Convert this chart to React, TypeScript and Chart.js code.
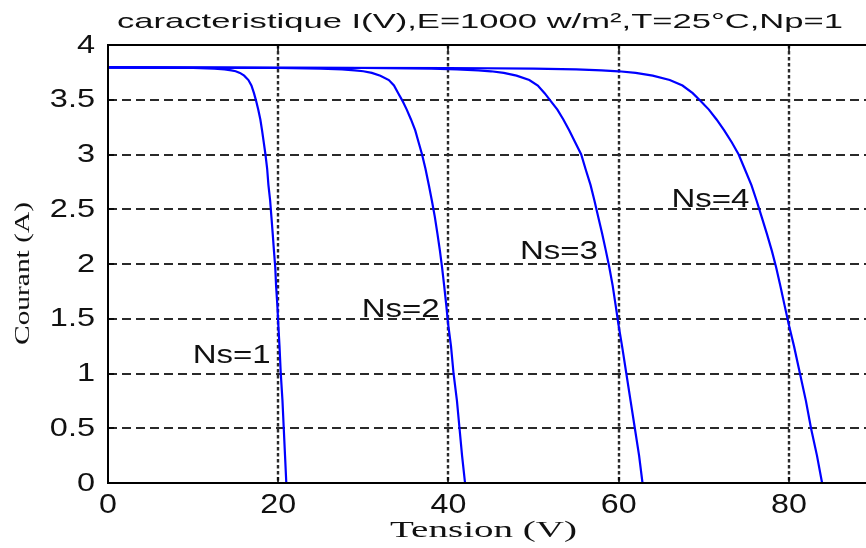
import React, { useEffect, useRef } from "react";
import { Chart, registerables } from "chart.js";

Chart.register(...registerables);

// ---------- data ----------
const TITLE = "caracteristique I(V),E=1000 w/m²,T=25°C,Np=1";
const X_LABEL = "Tension (V)";
const Y_LABEL = "Courant (A)";

const X_TICKS = [0, 20, 40, 60, 80];
const X_TICK_LABELS = ["0", "20", "40", "60", "80"];
const Y_TICKS = [0, 0.5, 1, 1.5, 2, 2.5, 3, 3.5, 4];
const Y_TICK_LABELS = ["0", "0.5", "1", "1.5", "2", "2.5", "3", "3.5", "4"];

const NS1_V = [0, 10, 12.5, 13.7, 14.5, 15, 15.5, 16, 16.5, 16.85, 17.15, 17.4, 17.65, 17.9, 18.1, 18.3, 18.5, 18.7, 18.85, 19.05, 19.2, 19.35, 19.5, 19.65, 19.75, 19.9, 20.0, 20.15, 20.3, 20.5, 20.65, 20.8, 20.95];
const NS1_I = [3.795, 3.79, 3.785, 3.778, 3.768, 3.76, 3.745, 3.72, 3.68, 3.63, 3.56, 3.49, 3.41, 3.32, 3.22, 3.11, 3.0, 2.87, 2.72, 2.58, 2.43, 2.28, 2.12, 1.97, 1.8, 1.62, 1.46, 1.25, 1.0, 0.75, 0.5, 0.25, 0];

const NS2_V = [0, 20, 25, 27.5, 29, 30, 31, 32, 33, 33.6, 34.1, 34.6, 35.1, 35.6, 36.1, 36.5, 36.9, 37.3, 37.7, 38.05, 38.4, 38.7, 39.0, 39.25, 39.5, 39.75, 39.95, 40.3, 40.6, 41.0, 41.3, 41.6, 41.95];
const NS2_I = [3.795, 3.79, 3.785, 3.778, 3.768, 3.76, 3.745, 3.72, 3.68, 3.63, 3.56, 3.49, 3.41, 3.32, 3.22, 3.11, 3.0, 2.87, 2.72, 2.58, 2.43, 2.28, 2.12, 1.97, 1.8, 1.62, 1.46, 1.25, 1.0, 0.75, 0.5, 0.25, 0];

const NS3_V = [0, 30, 38, 41, 43.5, 45, 46.5, 48, 49.5, 50.5, 51.3, 52.0, 52.8, 53.5, 54.2, 54.9, 55.6, 56.1, 56.7, 57.15, 57.6, 58.05, 58.5, 58.9, 59.3, 59.65, 59.95, 60.4, 60.9, 61.4, 61.9, 62.4, 62.8];
const NS3_I = [3.795, 3.79, 3.785, 3.778, 3.768, 3.76, 3.745, 3.72, 3.68, 3.63, 3.56, 3.49, 3.41, 3.32, 3.22, 3.11, 3.0, 2.87, 2.72, 2.58, 2.43, 2.28, 2.12, 1.97, 1.8, 1.62, 1.46, 1.25, 1.0, 0.75, 0.5, 0.25, 0];

const NS4_V = [0, 40, 50, 55, 58, 60, 62, 64, 66, 67.5, 68.7, 69.6, 70.6, 71.5, 72.4, 73.3, 74.1, 74.8, 75.6, 76.2, 76.8, 77.4, 78.0, 78.5, 79.0, 79.5, 79.95, 80.6, 81.3, 82.0, 82.6, 83.3, 83.9];
const NS4_I = [3.795, 3.79, 3.785, 3.778, 3.768, 3.76, 3.745, 3.72, 3.68, 3.63, 3.56, 3.49, 3.41, 3.32, 3.22, 3.11, 3.0, 2.87, 2.72, 2.58, 2.43, 2.28, 2.12, 1.97, 1.8, 1.62, 1.46, 1.25, 1.0, 0.75, 0.5, 0.25, 0];

const SERIES_NAMES = ["Ns=1", "Ns=2", "Ns=3", "Ns=4"];
const SERIES_V = [NS1_V, NS2_V, NS3_V, NS4_V];
const SERIES_I = [NS1_I, NS2_I, NS3_I, NS4_I];

// text annotation anchors (left edge, baseline) in data units
const LABEL_V = [9.95, 29.8, 48.4, 66.2];
const LABEL_I = [1.096, 1.519, 2.043, 2.523];

// ---------- styling ----------
const X_MIN = 0;
const X_MAX = 90;
const Y_MIN = 0;
const Y_MAX = 4;
const CANVAS_W = 900;
const CANVAS_H = 548;
const SANS = "'Liberation Sans', Arial, sans-serif";
const SERIF = "'Liberation Serif', 'Times New Roman', serif";

function drawScaledText(
  ctx: CanvasRenderingContext2D,
  text: string,
  x: number,
  y: number,
  font: string,
  align: "left" | "center" | "right",
  scaleX: number,
  targetWidth?: number
) {
  ctx.save();
  ctx.font = font;
  ctx.textBaseline = "alphabetic";
  ctx.textAlign = "left";
  const w = ctx.measureText(text).width;
  const sx = targetWidth ? targetWidth / w : scaleX;
  const total = w * sx;
  let left = x;
  if (align === "center") left = x - total / 2;
  else if (align === "right") left = x - total;
  ctx.translate(left, y);
  ctx.scale(sx, 1);
  ctx.fillText(text, 0, 0);
  ctx.restore();
}

const matlabPlugin = {
  id: "matlabLook",
  beforeDatasetsDraw(chart: any) {
    const { ctx, chartArea: a, scales } = chart;
    const xs = scales.x;
    const ys = scales.y;
    ctx.save();
    // horizontal dashed grid
    ctx.strokeStyle = "#2a2a2a";
    ctx.lineWidth = 1.8;
    ctx.setLineDash([9, 5]);
    Y_TICKS.forEach((v) => {
      if (v === Y_MIN || v === Y_MAX) return;
      const py = Math.round(ys.getPixelForValue(v));
      ctx.beginPath();
      ctx.moveTo(a.left, py);
      ctx.lineTo(a.right, py);
      ctx.stroke();
    });
    // vertical dotted grid
    ctx.lineWidth = 2.4;
    ctx.setLineDash([3.5, 2.5]);
    X_TICKS.forEach((v) => {
      if (v === X_MIN) return;
      const px = Math.round(xs.getPixelForValue(v));
      ctx.beginPath();
      ctx.moveTo(px, a.top);
      ctx.lineTo(px, a.bottom);
      ctx.stroke();
    });
    ctx.restore();
  },
  afterDraw(chart: any) {
    const { ctx, chartArea: a, scales } = chart;
    const xs = scales.x;
    const ys = scales.y;
    ctx.save();
    ctx.setLineDash([]);
    ctx.strokeStyle = "#000";
    ctx.lineWidth = 2;
    ctx.beginPath();
    ctx.moveTo(a.right + 10, a.top);
    ctx.lineTo(a.left, a.top);
    ctx.lineTo(a.left, a.bottom);
    ctx.lineTo(a.right + 10, a.bottom);
    ctx.stroke();
    // tick marks (inside)
    ctx.lineWidth = 1.5;
    Y_TICKS.forEach((v) => {
      const py = Math.round(ys.getPixelForValue(v));
      ctx.beginPath();
      ctx.moveTo(a.left, py);
      ctx.lineTo(a.left + 6, py);
      ctx.stroke();
    });
    X_TICKS.forEach((v) => {
      const px = Math.round(xs.getPixelForValue(v));
      ctx.beginPath();
      ctx.moveTo(px, a.top);
      ctx.lineTo(px, a.top + 6);
      ctx.moveTo(px, a.bottom);
      ctx.lineTo(px, a.bottom - 6);
      ctx.stroke();
    });

    ctx.fillStyle = "#111";
    // y tick labels
    Y_TICKS.forEach((v, i) => {
      const py = ys.getPixelForValue(v);
      drawScaledText(ctx, Y_TICK_LABELS[i], a.left - 13, py + 7.5, `25px ${SANS}`, "right", 1.3);
    });
    // x tick labels
    X_TICKS.forEach((v, i) => {
      const px = xs.getPixelForValue(v);
      drawScaledText(ctx, X_TICK_LABELS[i], px, a.bottom + 30, `28px ${SANS}`, "center", 1.15);
    });
    // title
    drawScaledText(ctx, TITLE, 480, 27.5, `21px ${SANS}`, "center", 1, 726);
    // x label
    drawScaledText(ctx, X_LABEL, 483.5, 536.5, `23px ${SERIF}`, "center", 1, 187);
    // y label (rotated)
    ctx.save();
    ctx.translate(29, 273.5);
    ctx.rotate(-Math.PI / 2);
    drawScaledText(ctx, Y_LABEL, 0, 0, `21px ${SERIF}`, "center", 1, 143);
    ctx.restore();
    // curve annotations
    SERIES_NAMES.forEach((name, i) => {
      const px = xs.getPixelForValue(LABEL_V[i]);
      const py = ys.getPixelForValue(LABEL_I[i]);
      drawScaledText(ctx, name, px, py, `26px ${SANS}`, "left", 1.27);
    });
    ctx.restore();
  },
};

export default function App() {
  const canvasRef = useRef<HTMLCanvasElement | null>(null);

  useEffect(() => {
    const canvas = canvasRef.current;
    if (!canvas) return;
    const datasets = SERIES_NAMES.map((name, s) => ({
      label: name,
      data: SERIES_V[s].map((v, i) => ({ x: v, y: SERIES_I[s][i] })),
      borderColor: "#0000ff",
      backgroundColor: "#0000ff",
      borderWidth: 2.2,
      pointRadius: 0,
      tension: 0,
      fill: false,
    }));
    const chart = new Chart(canvas, {
      type: "line",
      data: { datasets },
      options: {
        animation: false,
        responsive: false,
        devicePixelRatio: 1,
        layout: { padding: { left: 108, top: 45, right: CANVAS_W - 874, bottom: CANVAS_H - 483 } },
        plugins: {
          legend: { display: false },
          title: { display: false },
          tooltip: { enabled: false },
        },
        scales: {
          x: { type: "linear", min: X_MIN, max: X_MAX, display: false },
          y: { type: "linear", min: Y_MIN, max: Y_MAX, display: false },
        },
      },
      plugins: [matlabPlugin],
    });
    return () => chart.destroy();
  }, []);

  return (
    <div
      style={{
        position: "fixed",
        left: 0,
        top: 0,
        width: 866,
        height: 548,
        overflow: "hidden",
        background: "#fff",
      }}
    >
      <canvas
        ref={canvasRef}
        width={CANVAS_W}
        height={CANVAS_H}
        style={{ display: "block", width: `${CANVAS_W}px`, height: `${CANVAS_H}px` }}
      />
    </div>
  );
}
